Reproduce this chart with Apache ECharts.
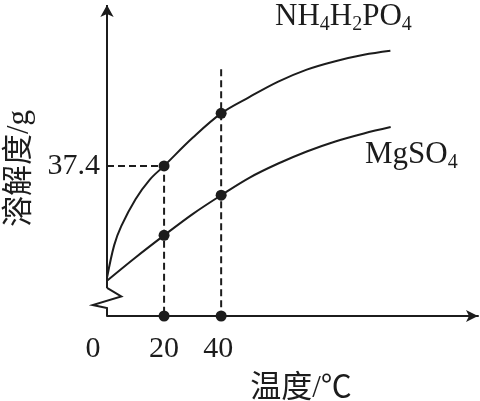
<!DOCTYPE html>
<html><head><meta charset="utf-8">
<script src="https://cdn.jsdelivr.net/npm/echarts@6/dist/echarts.min.js"></script>
<style>html,body{margin:0;padding:0;background:#fff}#c{width:480px;height:401px}</style>
</head><body><div id="c"></div>
<script>
// Temperature (°C) / solubility (g)
const tempNH = [0, 2.5, 5, 10, 15, 20, 30, 40, 50, 60, 70, 80, 90, 99.3];
const solNH  = [9.5, 17.6, 22.4, 29.1, 34.0, 37.4, 44.4, 50.5, 54.6, 58.4, 61.4, 63.5, 65.1, 66.1];
const tempMg = [0, 10, 20, 30, 40, 50, 60, 70, 80, 90, 99.4];
const solMg  = [8.8, 14.6, 20.1, 25.4, 30.1, 34.5, 38.0, 41.0, 43.5, 45.5, 47.1];
const markedTemps = [20, 40];
const markedNH = [37.4, 50.5];
const markedMg = [20.1, 30.1];
const guideTops = [37.4, 61.5];
const xTickLabels = [0, 20, 40];
const yTickLabels = [37.4];
const breakX = [0, 0, -5.0, 5.0, 0];
const breakY = [0, 2.0, 2.75, 4.9, 7.0];
const yAxisTop = 77.5;
const xAxisEnd = 130;
const breakAxisMin = -6;

const INK = '#1c1c1c';
const SERIF = '"Liberation Serif","Times New Roman",serif';
const CJK = '"Liberation Serif","Noto Sans CJK SC",serif';

const zip = (a, b) => a.map((v, i) => [v, b[i]]);

const chart = echarts.init(document.getElementById('c'), null, {renderer: 'canvas'});

const guide20 = [[0, guideTops[0]], [markedTemps[0], guideTops[0]], [markedTemps[0], 0]];
const guide40 = [[markedTemps[1], guideTops[1]], [markedTemps[1], 0]];
const dots = [].concat(
  zip(markedTemps, markedNH),
  zip(markedTemps, markedMg),
  markedTemps.map(t => [t, 0])
);
const breakPts = zip(breakX, breakY);
const lastBreak = breakPts[breakPts.length - 1];

// layout: main plot area, plus an overlaid area with the same scale that reaches a bit further left
const G_LEFT = 107, G_TOP = 5, G_W = 371, G_H = 311;
const pxPerUnit = G_W / xAxisEnd;
const G2_LEFT = G_LEFT + breakAxisMin * pxPerUnit;
const G2_W = G_W - breakAxisMin * pxPerUnit;

const dashStyle = {color: INK, width: 2, type: [7, 4]};

chart.setOption({
  animation: false,
  backgroundColor: '#fff',
  grid: [
    {left: G_LEFT, top: G_TOP, width: G_W, height: G_H, containLabel: false, outerBoundsMode: 'none'},
    {left: G2_LEFT, top: G_TOP, width: G2_W, height: G_H, containLabel: false, outerBoundsMode: 'none'}
  ],
  xAxis: [{
    type: 'value', min: 0, max: xAxisEnd, gridIndex: 0,
    axisLine: {show: true, symbol: ['none', 'arrow'], symbolSize: [9, 12], lineStyle: {color: INK, width: 2}},
    axisTick: {show: false},
    splitLine: {show: false},
    axisLabel: {
      customValues: xTickLabels,
      fontSize: 30, fontFamily: SERIF, color: INK, margin: 18,
      formatter: v => v === 0 ? '{z|0}' : (v === 40 ? '{f|40}' : String(v)),
      rich: {
        z: {fontSize: 30, fontFamily: SERIF, color: INK, padding: [0, 28, 0, 0]},
        f: {fontSize: 30, fontFamily: SERIF, color: INK, padding: [0, 6, 0, 0]}
      }
    },
    name: '温度/℃', nameLocation: 'middle', nameGap: 57,
    nameTextStyle: {fontSize: 31, fontFamily: CJK, color: INK, padding: [0, 0, 0, 17]}
  }, {
    type: 'value', min: breakAxisMin, max: xAxisEnd, gridIndex: 1, show: false
  }],
  yAxis: [{
    type: 'value', min: 0, max: yAxisTop, gridIndex: 0,
    axisLine: {show: false},
    axisTick: {show: false},
    splitLine: {show: false},
    axisLabel: {customValues: yTickLabels, fontSize: 30, fontFamily: SERIF, color: INK, margin: 7},
    name: '溶解度/g', nameLocation: 'middle', nameRotate: 90, nameGap: 72,
    nameTextStyle: {fontSize: 31, fontFamily: CJK, color: INK, padding: [0, 16, 0, 0]}
  }, {
    type: 'value', min: 0, max: yAxisTop, gridIndex: 1, show: false
  }],
  graphic: [
    {type: 'text', left: 275, top: 1, style: {
      text: '{b|NH}{s|4}{b|H}{s|2}{b|PO}{s|4}',
      rich: {
        b: {fontSize: 31, fontFamily: SERIF, fill: INK, lineHeight: 36},
        s: {fontSize: 20, fontFamily: SERIF, fill: INK, lineHeight: 24, verticalAlign: 'bottom'}
      }
    }},
    {type: 'text', left: 365, top: 139, style: {
      text: '{b|MgSO}{s|4}',
      rich: {
        b: {fontSize: 31, fontFamily: SERIF, fill: INK, lineHeight: 36},
        s: {fontSize: 20, fontFamily: SERIF, fill: INK, lineHeight: 24, verticalAlign: 'bottom'}
      }
    }}
  ],
  series: [
    {type: 'line', name: 'NH4H2PO4', data: zip(tempNH, solNH), smooth: 0.35,
     showSymbol: false, symbol: 'none', lineStyle: {color: INK, width: 2}, z: 3},
    {type: 'line', name: 'MgSO4', data: zip(tempMg, solMg), smooth: 0.35,
     showSymbol: false, symbol: 'none', lineStyle: {color: INK, width: 2}, z: 3},
    {type: 'line', data: guide20, symbol: 'none', lineStyle: dashStyle, z: 2},
    {type: 'line', data: guide40, symbol: 'none', lineStyle: dashStyle, z: 2},
    {type: 'scatter', data: dots, symbol: 'circle', symbolSize: 11, itemStyle: {color: INK, opacity: 1}, z: 5},
    // broken y axis (zigzag) and its arrowed upper part
    {type: 'line', xAxisIndex: 1, yAxisIndex: 1, data: breakPts, symbol: 'none',
     lineStyle: {color: INK, width: 2, join: 'miter'}, z: 4,
     markLine: {
       silent: true, symbol: ['none', 'arrow'], symbolSize: [10, 12],
       label: {show: false},
       emphasis: {disabled: true},
       lineStyle: {color: INK, width: 2, type: 'solid'},
       data: [[{coord: lastBreak}, {coord: [0, yAxisTop]}]]
     }}
  ]
});
</script>
</body></html>
